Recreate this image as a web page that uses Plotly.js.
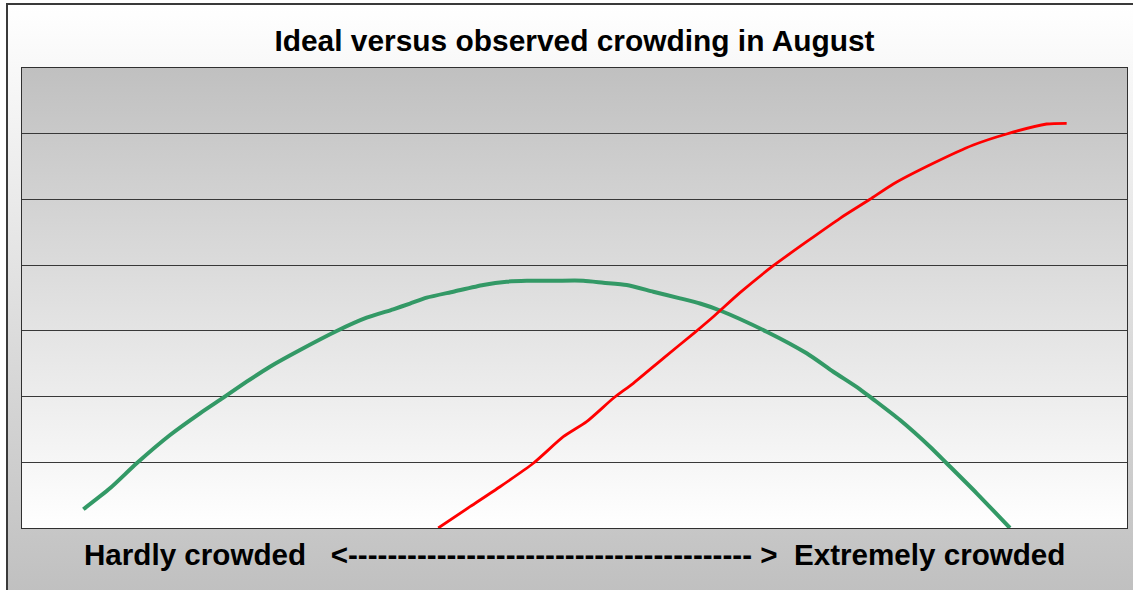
<!DOCTYPE html>
<html>
<head>
<meta charset="utf-8">
<script src="https://cdn.plot.ly/plotly-3.0.1.min.js"></script>
<style>
  html, body { margin: 0; padding: 0; background: #ffffff; overflow: hidden; }
  #wrap { position: relative; width: 1133px; height: 590px; overflow: hidden; }
  #frame {
    position: absolute; left: 6px; top: 3px; width: 1150px; height: 587px;
    border-left: 2px solid #3a3a3a; border-top: 2px solid #3a3a3a;
    background: linear-gradient(to bottom, #ffffff 0%, #c0c0c0 100%);
  }
  #plotbg {
    position: absolute; left: 22px; top: 68px; width: 1105px; height: 460px;
    background: linear-gradient(to bottom, #c0c0c0 0%, #ffffff 100%);
  }
  #chart { position: absolute; left: 0; top: 0; width: 1133px; height: 590px; }
</style>
</head>
<body>
<div id="wrap">
  <div id="frame"></div>
  <div id="plotbg"></div>
  <div id="chart"></div>
</div>
<script>
// Position along the crowding scale (0 = hardly crowded, 100 = extremely crowded)
const idealX = [5.55, 7.96, 10.38, 13.40, 16.11, 18.22, 20.33, 22.44, 25.16, 28.48,
  31.19, 33.60, 35.11, 36.62, 39.03, 41.75, 43.86, 45.67, 48.24, 50.80, 52.61,
  54.72, 57.13, 59.55, 61.36, 63.17, 67.39, 71.01, 73.42, 75.84, 77.04, 79.46,
  82.17, 83.68, 86.40, 89.41];
const idealY = [2.85, 6.04, 9.85, 14.15, 17.45, 19.83, 22.26, 24.55, 27.09, 29.98,
  32.00, 33.28, 34.16, 35.05, 35.96, 36.98, 37.48, 37.63, 37.63, 37.63, 37.33,
  36.98, 35.96, 34.95, 34.16, 33.10, 29.87, 26.58, 23.78, 21.11, 19.58, 16.43,
  12.37, 9.85, 5.28, 0.0];

const observedX = [37.67, 40.54, 43.26, 46.27, 48.99, 51.10, 53.51, 55.32, 58.03,
  60.90, 62.56, 64.98, 67.99, 71.01, 74.03, 76.74, 78.85, 82.47, 86.09, 89.11,
  92.73, 94.54];
const observedY = [0.0, 3.24, 6.28, 9.85, 13.89, 16.18, 19.74, 22.02, 25.82,
  29.78, 32.15, 35.81, 39.91, 43.57, 47.13, 50.02, 52.35, 55.50, 58.28, 59.96,
  61.48, 61.58];

const chartTitle = 'Ideal versus observed crowding in August';
const scaleLabel = 'Hardly crowded\u00a0\u00a0\u00a0<' + '-'.repeat(41) + '\u00a0>\u00a0\u00a0Extremely crowded';

const font = 'Liberation Sans, Arial, sans-serif';

const traces = [
  {
    x: idealX, y: idealY, type: 'scatter', mode: 'lines', name: 'Ideal',
    line: { color: '#339966', width: 4, shape: 'spline', smoothing: 0.6 },
    hoverinfo: 'skip'
  },
  {
    x: observedX, y: observedY, type: 'scatter', mode: 'lines', name: 'Observed',
    line: { color: '#ff0000', width: 2.8, shape: 'spline', smoothing: 0.6 },
    hoverinfo: 'skip'
  }
];

const layout = {
  width: 1133, height: 590,
  margin: { l: 22, r: 6, t: 68, b: 62 },
  paper_bgcolor: 'rgba(0,0,0,0)',
  plot_bgcolor: 'rgba(0,0,0,0)',
  showlegend: false,
  title: {
    text: chartTitle,
    font: { family: font, size: 29.9, color: '#000000', weight: 700 },
    x: 0.5, xref: 'paper', xanchor: 'center',
    y: 1 - 41 / 590, yref: 'container', yanchor: 'middle'
  },
  xaxis: {
    range: [0, 100], showgrid: false, zeroline: false, showticklabels: false,
    ticks: '', showline: true, linecolor: '#303030', linewidth: 1, mirror: true,
    fixedrange: true
  },
  yaxis: {
    range: [0, 70], dtick: 10, tick0: 0, showgrid: true, gridcolor: '#383838',
    gridwidth: 1.2, zeroline: false, showticklabels: false, ticks: '',
    showline: true, linecolor: '#303030', linewidth: 1, mirror: true,
    fixedrange: true
  },
  annotations: [
    {
      text: scaleLabel, showarrow: false,
      xref: 'paper', yref: 'paper', x: 0.5, y: -(554 - 528) / 460,
      xanchor: 'center', yanchor: 'middle',
      font: { family: font, size: 29.6, color: '#000000', weight: 700 }
    }
  ]
};

Plotly.newPlot('chart', traces, layout, { displayModeBar: false, staticPlot: true });
</script>
</body>
</html>
